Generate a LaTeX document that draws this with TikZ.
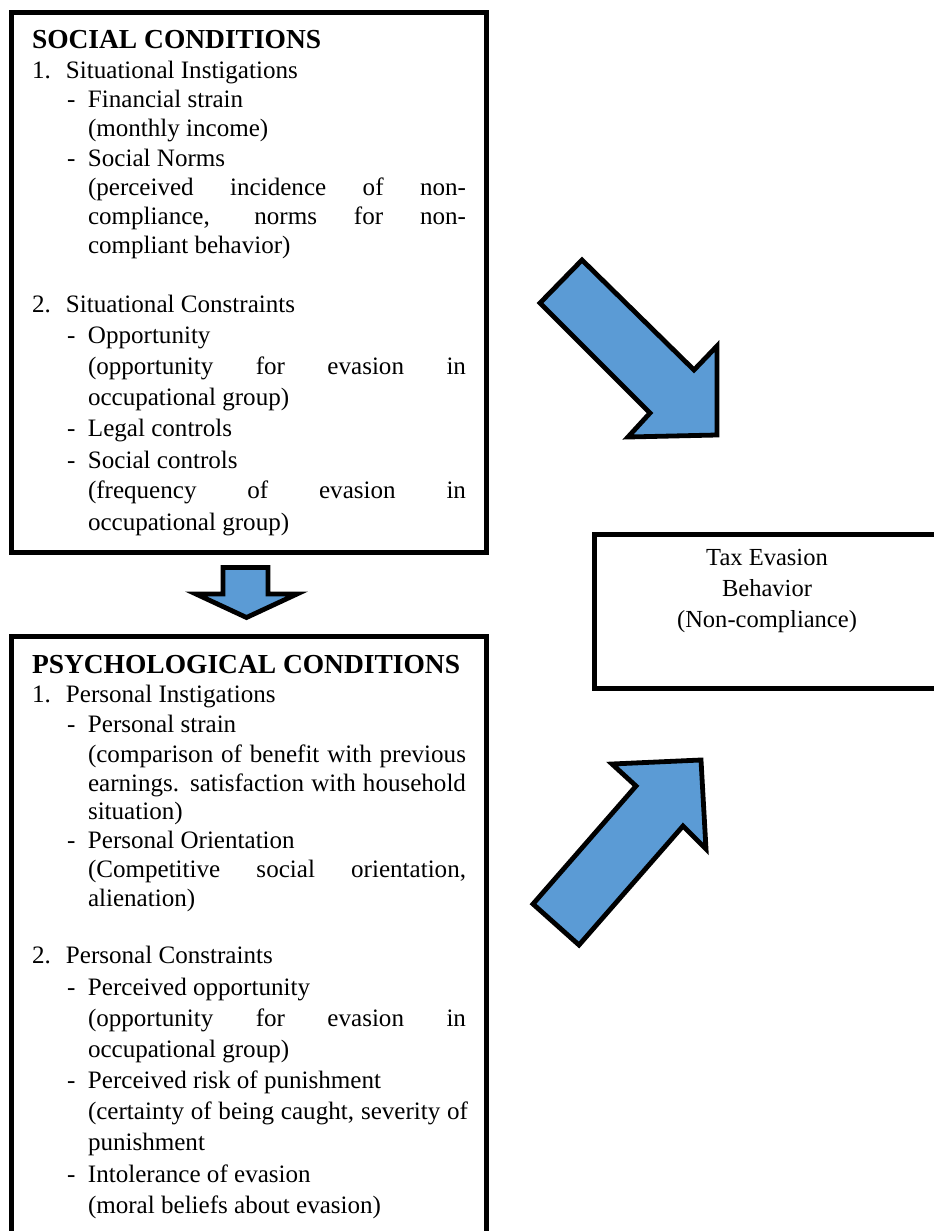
\documentclass[tikz,border=0pt]{standalone}
\usepackage{fontspec}
\setmainfont{Liberation Serif}
\definecolor{arrowblue}{HTML}{5B9BD5}
\newcommand{\bodyf}{\fontsize{18.8}{22}\selectfont}
\newcommand{\headf}{\fontsize{20.6}{24}\selectfont\bfseries}
\newcommand{\num}[1]{\makebox[25.5pt][l]{#1}}
\newcommand{\dsh}{\makebox[15.75pt][l]{-}}
\newcommand{\jst}[1]{\makebox[283.5pt][s]{#1}}
\begin{document}
\begin{tikzpicture}[x=0.75pt,y=-0.75pt,
  ln/.style={anchor=base west,inner sep=0pt,outer sep=0pt,font=\bodyf},
  hd/.style={anchor=base west,inner sep=0pt,outer sep=0pt,font=\headf},
  ctr/.style={anchor=base,inner sep=0pt,outer sep=0pt,font=\fontsize{18.4}{22}\selectfont},
  boxline/.style={draw=black,line width=3.75pt},
  blockarrow/.style={draw=black,line width=3.6pt,fill=arrowblue,line join=miter}]
\useasboundingbox (0,0) rectangle (934,1231);
\clip (0,0) rectangle (934,1231);
\fill[white] (0,0) rectangle (934,1231);

% boxes
\draw[boxline] (11.5,12.5) rectangle (486.5,552.5);
\draw[boxline] (11.5,636) rectangle (486.5,1250);
\draw[boxline] (594.5,534) rectangle (950,688);

% social conditions
\node[hd] (s0) at (32,49) {SOCIAL CONDITIONS};
\node[ln] (s1) at (32,79) {\num{1.}Situational Instigations};
\node[ln] (s2) at (67,108) {\dsh Financial strain};
\node[ln] (s3) at (88,137) {(monthly income)};
\node[ln] (s4) at (67,166) {\dsh Social Norms};
\node[ln] (s5) at (88,195.5) {\jst{(perceived incidence of non-}};
\node[ln] (s6) at (88,224.5) {\jst{compliance, norms for non-}};
\node[ln] (s7) at (88,253) {compliant behavior)};
\node[ln] (s8) at (32,312) {\num{2.}Situational Constraints};
\node[ln] (s9) at (67,343) {\dsh Opportunity};
\node[ln] (s10) at (88,374) {\jst{(opportunity for evasion in}};
\node[ln] (s11) at (88,405) {occupational group)};
\node[ln] (s12) at (67,436.5) {\dsh Legal controls};
\node[ln] (s13) at (67,468) {\dsh Social controls};
\node[ln] (s14) at (88,498.5) {\jst{(frequency of evasion in}};
\node[ln] (s15) at (88,530) {occupational group)};

% psychological conditions
\node[hd] (p0) at (32,673) {PSYCHOLOGICAL CONDITIONS};
\node[ln] (p1) at (32,702) {\num{1.}Personal Instigations};
\node[ln] (p2) at (67,732) {\dsh Personal strain};
\node[ln] (p3) at (88,762) {\jst{(comparison of benefit with previous}};
\node[ln] (p4) at (88,791) {\jst{earnings. satisfaction with household}};
\node[ln] (p5) at (88,819.5) {situation)};
\node[ln] (p6) at (67,848.5) {\dsh Personal Orientation};
\node[ln] (p7) at (88,877.5) {\jst{(Competitive social orientation,}};
\node[ln] (p8) at (88,906) {alienation)};
\node[ln] (p9) at (32,963) {\num{2.}Personal Constraints};
\node[ln] (p10) at (67,995) {\dsh Perceived opportunity};
\node[ln] (p11) at (88,1026.5) {\jst{(opportunity for evasion in}};
\node[ln] (p12) at (88,1057) {occupational group)};
\node[ln] (p13) at (67,1088) {\dsh Perceived risk of punishment};
\node[ln] (p14) at (88,1119) {\makebox[285pt][s]{(certainty of being caught, severity of}};
\node[ln] (p15) at (88,1150) {punishment};
\node[ln] (p16) at (67,1182) {\dsh Intolerance of evasion};
\node[ln] (p17) at (88,1213) {(moral beliefs about evasion)};

% outcome
\node[ctr] (o1) at (767,565) {Tax Evasion};
\node[ctr] (o2) at (767,596) {Behavior};
\node[ctr] (o3) at (767,627) {(Non-compliance)};

% block arrows
\draw[blockarrow] (223,567.5) -- (268,567.5) -- (268,594) -- (297,594)
  -- (246.5,617.5) -- (196,594) -- (223,594) -- cycle;
\draw[blockarrow] (582,260) -- (540,303) -- (650,413) -- (628,437)
  -- (717,435) -- (717,346) -- (694,370) -- cycle;
\draw[blockarrow] (533,904) -- (579,945) -- (683,826) -- (706,849)
  -- (701,760) -- (612,764) -- (636,786) -- cycle;
\end{tikzpicture}
\end{document}
